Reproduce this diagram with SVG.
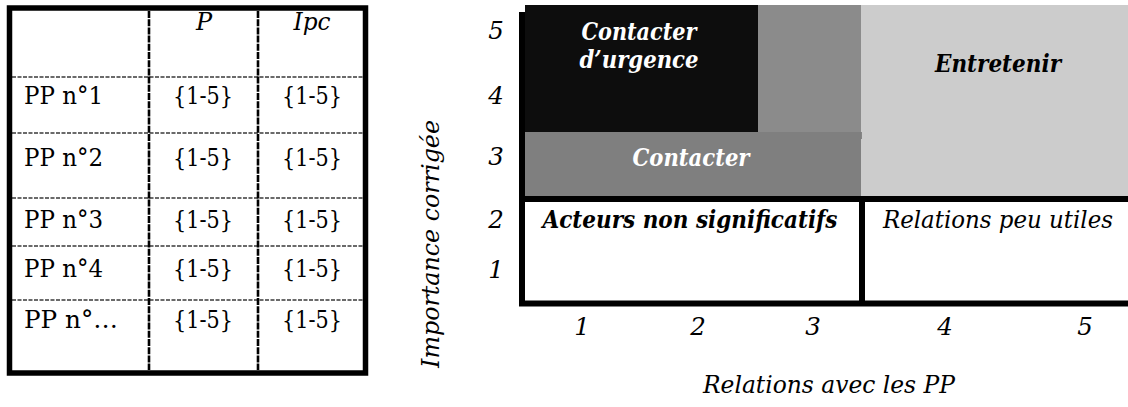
<svg xmlns="http://www.w3.org/2000/svg" width="1128" height="407" viewBox="0 0 1128 407" font-family="'DejaVu Serif', 'Liberation Serif', serif">
<style>
text{font-family:'DejaVu Serif','Liberation Serif',serif;fill:#000}
.tb{font-size:24px}
.i{font-style:italic}
.b{font-weight:bold}
.c{font-size:24.5px}
.w{fill:#fff}
.hd{stroke:#6a6a6a;stroke-width:1.8;stroke-dasharray:4 1.5;fill:none}
.vd{stroke:#000;stroke-width:2.6;stroke-dasharray:7 1.2;fill:none}
.thick{stroke:#000;stroke-width:6;fill:none}
</style>
<rect width="1128" height="407" fill="#fff"/>
<g id="table">
  <line class="hd" x1="12" y1="77" x2="363" y2="77"/>
  <line class="hd" x1="12" y1="133" x2="363" y2="133"/>
  <line class="hd" x1="12" y1="198" x2="363" y2="198"/>
  <line class="hd" x1="12" y1="246" x2="363" y2="246"/>
  <line class="hd" x1="12" y1="300" x2="363" y2="300"/>
  <line class="vd" x1="149" y1="11" x2="149" y2="370"/>
  <line class="vd" x1="258" y1="11" x2="258" y2="370"/>
  <rect x="9.5" y="8" width="356" height="365" fill="none" stroke="#000" stroke-width="5.5"/>
  <g text-anchor="middle">
    <text class="tb i" x="204" y="30">P</text>
    <text class="tb i" x="312" y="30" textLength="37" lengthAdjust="spacingAndGlyphs">Ipc</text>
    <text class="tb" x="203" y="104" textLength="60" lengthAdjust="spacingAndGlyphs">{1-5}</text><text class="tb" x="312" y="104" textLength="60" lengthAdjust="spacingAndGlyphs">{1-5}</text>
    <text class="tb" x="203" y="166" textLength="60" lengthAdjust="spacingAndGlyphs">{1-5}</text><text class="tb" x="312" y="166" textLength="60" lengthAdjust="spacingAndGlyphs">{1-5}</text>
    <text class="tb" x="203" y="228" textLength="60" lengthAdjust="spacingAndGlyphs">{1-5}</text><text class="tb" x="312" y="228" textLength="60" lengthAdjust="spacingAndGlyphs">{1-5}</text>
    <text class="tb" x="203" y="277" textLength="60" lengthAdjust="spacingAndGlyphs">{1-5}</text><text class="tb" x="312" y="277" textLength="60" lengthAdjust="spacingAndGlyphs">{1-5}</text>
    <text class="tb" x="203" y="328" textLength="60" lengthAdjust="spacingAndGlyphs">{1-5}</text><text class="tb" x="312" y="328" textLength="60" lengthAdjust="spacingAndGlyphs">{1-5}</text>
  </g>
  <g>
    <text class="tb" x="24" y="104" textLength="79" lengthAdjust="spacingAndGlyphs">PP n°1</text>
    <text class="tb" x="24" y="166" textLength="79" lengthAdjust="spacingAndGlyphs">PP n°2</text>
    <text class="tb" x="24" y="228" textLength="79" lengthAdjust="spacingAndGlyphs">PP n°3</text>
    <text class="tb" x="24" y="277" textLength="79" lengthAdjust="spacingAndGlyphs">PP n°4</text>
    <text class="tb" x="24" y="328" textLength="94" lengthAdjust="spacingAndGlyphs">PP n°…</text>
  </g>
</g>
<g id="entretenir">
  <rect x="861" y="5" width="267" height="191" fill="#cccccc"/>
  <text class="c i b" x="998" y="72" text-anchor="middle" textLength="126" lengthAdjust="spacingAndGlyphs">Entretenir</text>
</g>
<g id="zone-grise">
  <rect x="758" y="5" width="103" height="127" fill="#8b8b8b"/>
  <rect x="758" y="132" width="104" height="7" fill="#858585"/>
</g>
<g id="contacter">
  <rect x="525" y="132" width="336" height="64" fill="#7f7f7f"/>
  <text class="c i b w" x="691" y="166" text-anchor="middle" textLength="117" lengthAdjust="spacingAndGlyphs">Contacter</text>
</g>
<g id="contacter-urgence">
  <rect x="525" y="5" width="233" height="127" fill="#0d0d0d"/>
  <rect x="519" y="12" width="6" height="190" fill="#000"/>
  <text class="c i b w" x="639" y="40" text-anchor="middle" textLength="115" lengthAdjust="spacingAndGlyphs">Contacter</text>
  <text class="c i b w" x="639" y="68" text-anchor="middle" textLength="119" lengthAdjust="spacingAndGlyphs">d’urgence</text>
</g>
<g id="acteurs-non-significatifs">
  <text class="c i b" x="690" y="228" text-anchor="middle" textLength="295" lengthAdjust="spacingAndGlyphs">Acteurs non significatifs</text>
</g>
<g id="relations-peu-utiles">
  <text class="c i" x="998" y="228" text-anchor="middle" textLength="230" lengthAdjust="spacingAndGlyphs">Relations peu utiles</text>
</g>
<g id="cadre">
  <rect class="thick" x="522" y="199" width="620" height="104.5"/>
  <line class="thick" x1="862" y1="199" x2="862" y2="303"/>
</g>
<g id="axe-y" text-anchor="middle">
  <text class="c i" x="496" y="39">5</text>
  <text class="c i" x="496" y="104">4</text>
  <text class="c i" x="496" y="165">3</text>
  <text class="c i" x="496" y="228">2</text>
  <text class="c i" x="496" y="278">1</text>
  <text class="c i" transform="translate(439,244) rotate(-90)" x="0" y="0" textLength="248" lengthAdjust="spacingAndGlyphs">Importance corrigée</text>
</g>
<g id="axe-x" text-anchor="middle">
  <text class="c i" x="582" y="335">1</text>
  <text class="c i" x="698" y="335">2</text>
  <text class="c i" x="813" y="335">3</text>
  <text class="c i" x="945" y="335">4</text>
  <text class="c i" x="1085" y="335">5</text>
  <text class="c i" x="829" y="393" textLength="252" lengthAdjust="spacingAndGlyphs">Relations avec les PP</text>
</g>
</svg>
